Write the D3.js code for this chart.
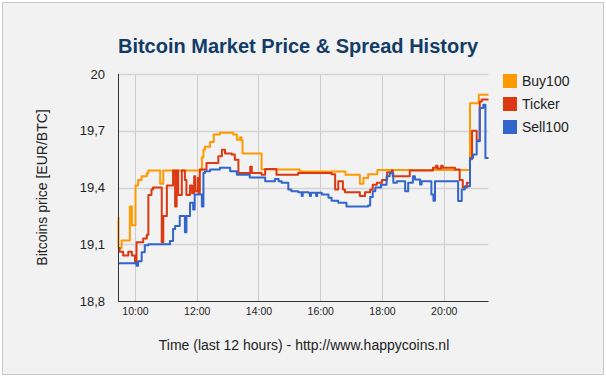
<!DOCTYPE html>
<html>
<head>
<meta charset="utf-8">
<script src="https://cdn.jsdelivr.net/npm/d3@7"></script>
<style>
  body { margin: 0; background: #fff; }
  svg { display: block; font-family: Arial, "Liberation Sans", sans-serif; }
</style>
</head>
<body>
<div id="chart"></div>
<script>
const width = 606;
const height = 377;
const margin = { top: 74, right: 117.5, bottom: 75, left: 118 };

// Time window and axis ticks
const timeDomain = ["09:27", "21:27"];
const timeTicks = ["10:00", "12:00", "14:00", "16:00", "18:00", "20:00"];
const priceDomain = [18.8, 20];
const priceTicks = [18.8, 19.1, 19.4, 19.7, 20];

const seriesNames = ["Buy100", "Ticker", "Sell100"];
const seriesColors = ["#ff9900", "#dc3912", "#3366cc"];

// [time, EUR/BTC]
const buy100 = [
  ["09:27", 19.24], ["09:28", 19.08], ["09:34", 19.12], ["09:50", 19.3],
  ["09:54", 19.2], ["10:01", 19.41], ["10:06", 19.44], ["10:13", 19.46],
  ["10:23", 19.475], ["10:26", 19.49], ["10:49", 19.42], ["10:55", 19.49],
  ["12:10", 19.56], ["12:13", 19.6], ["12:16", 19.615], ["12:26", 19.64],
  ["12:33", 19.68], ["12:45", 19.69], ["13:11", 19.68], ["13:18", 19.653],
  ["13:24", 19.665], ["13:27", 19.65], ["13:29", 19.58], ["14:06", 19.495],
  ["15:20", 19.485], ["16:49", 19.468], ["17:17", 19.42], ["17:24", 19.45],
  ["17:33", 19.47], ["17:51", 19.492], ["20:51", 19.845], ["21:08", 19.89],
  ["21:27", 19.89],
];

const ticker = [
  ["09:27", 19.08], ["09:30", 19.06], ["09:37", 19.04], ["09:47", 19.06],
  ["09:54", 19.04], ["10:00", 19.0], ["10:03", 19.11], ["10:16", 19.13],
  ["10:23", 19.15], ["10:26", 19.36], ["10:32", 19.39], ["10:35", 19.4],
  ["10:52", 19.11], ["10:55", 19.25], ["11:02", 19.41], ["11:14", 19.49],
  ["11:18", 19.3], ["11:21", 19.49], ["11:24", 19.36], ["11:31", 19.49],
  ["11:37", 19.44], ["11:40", 19.36], ["11:47", 19.41], ["11:51", 19.37],
  ["11:55", 19.46], ["11:57", 19.38], ["12:02", 19.45], ["12:04", 19.37],
  ["12:06", 19.495], ["12:19", 19.53], ["12:42", 19.565], ["12:49", 19.6],
  ["12:55", 19.58], ["13:08", 19.574], ["13:14", 19.547], ["13:21", 19.477],
  ["13:44", 19.51], ["13:47", 19.477], ["14:06", 19.468], ["14:13", 19.498],
  ["14:35", 19.468], ["15:17", 19.477], ["16:22", 19.47], ["16:29", 19.39],
  ["16:35", 19.433], ["16:44", 19.39], ["16:48", 19.375], ["17:17", 19.355],
  ["17:27", 19.375], ["17:37", 19.39], ["17:42", 19.415], ["17:50", 19.425],
  ["18:00", 19.44], ["18:10", 19.48], ["18:19", 19.49], ["18:21", 19.46],
  ["18:54", 19.49], ["19:39", 19.505], ["19:45", 19.515], ["19:48", 19.5],
  ["19:55", 19.515], ["19:58", 19.505], ["20:22", 19.495], ["20:31", 19.44],
  ["20:37", 19.4], ["20:45", 19.425], ["20:51", 19.55], ["20:55", 19.7],
  ["21:04", 19.65], ["21:10", 19.855], ["21:14", 19.865], ["21:27", 19.865],
];

const sell100 = [
  ["09:27", 19.0], ["10:03", 18.986], ["10:06", 19.01], ["10:13", 19.058],
  ["10:19", 19.095], ["10:26", 19.1], ["11:08", 19.117], ["11:14", 19.18],
  ["11:18", 19.196], ["11:27", 19.25], ["11:37", 19.163], ["11:40", 19.25],
  ["11:47", 19.32], ["11:53", 19.284], ["11:56", 19.363], ["12:10", 19.3],
  ["12:13", 19.477], ["12:16", 19.486], ["12:26", 19.495], ["12:45", 19.504],
  ["13:05", 19.486], ["13:18", 19.468], ["13:43", 19.453], ["14:13", 19.433],
  ["14:32", 19.445], ["14:39", 19.433], ["14:45", 19.425], ["14:58", 19.39],
  ["15:04", 19.38], ["15:17", 19.375], ["15:24", 19.355], ["15:26", 19.375],
  ["15:37", 19.372], ["15:40", 19.355], ["15:42", 19.372], ["15:52", 19.355],
  ["15:54", 19.372], ["16:03", 19.363], ["16:16", 19.346], ["16:22", 19.33],
  ["16:35", 19.32], ["16:51", 19.3], ["17:33", 19.305], ["17:37", 19.35],
  ["17:42", 19.38], ["17:47", 19.4], ["17:58", 19.415], ["18:09", 19.46],
  ["18:15", 19.475], ["18:22", 19.425], ["18:29", 19.433], ["18:45", 19.38],
  ["18:51", 19.425], ["19:00", 19.46], ["19:04", 19.442], ["19:14", 19.416],
  ["19:17", 19.433], ["19:36", 19.363], ["19:40", 19.33], ["19:43", 19.433],
  ["20:28", 19.328], ["20:35", 19.389], ["20:41", 19.407], ["20:51", 19.556],
  ["20:57", 19.574], ["21:04", 19.644], ["21:10", 19.82], ["21:17", 19.837],
  ["21:21", 19.556], ["21:27", 19.556],
];

const seriesData = [buy100, ticker, sell100];

const parseTime = d3.timeParse("%H:%M");
const commaFormat = d3.formatLocale({ decimal: ",", thousands: ".", grouping: [3], currency: ["", "€"] }).format("~g");

const plotWidth = width - margin.left - margin.right;
const plotHeight = height - margin.top - margin.bottom - 1;

const svg = d3
  .select("#chart")
  .append("svg")
  .attr("width", width)
  .attr("height", height);

// Background with thin border
svg
  .append("rect")
  .attr("x", 2.5)
  .attr("y", 2.5)
  .attr("width", 601)
  .attr("height", 372)
  .attr("fill", "#f2f2f2")
  .attr("stroke", "#c8c8c8");

const xScale = d3
  .scaleTime()
  .domain(timeDomain.map(parseTime))
  .range([margin.left, margin.left + plotWidth]);

const yScale = d3
  .scaleLinear()
  .domain(priceDomain)
  .range([margin.top + plotHeight, margin.top]);

// Gridlines
svg
  .append("g")
  .selectAll("line")
  .data(timeTicks)
  .enter()
  .append("line")
  .attr("x1", (d) => Math.round(xScale(parseTime(d))) + 0.5)
  .attr("x2", (d) => Math.round(xScale(parseTime(d))) + 0.5)
  .attr("y1", margin.top)
  .attr("y2", margin.top + plotHeight)
  .attr("stroke", "#cccccc");

svg
  .append("g")
  .selectAll("line")
  .data(priceTicks.slice(1))
  .enter()
  .append("line")
  .attr("x1", margin.left)
  .attr("x2", margin.left + plotWidth)
  .attr("y1", (d) => Math.round(yScale(d)) + 0.5)
  .attr("y2", (d) => Math.round(yScale(d)) + 0.5)
  .attr("stroke", "#d4d4d4")
  .attr("stroke-width", 1.5);

// Y axis labels
const yAxis = svg
  .append("g")
  .attr("transform", `translate(${margin.left - 13}, 0)`)
  .call(d3.axisLeft(yScale).tickValues(priceTicks).tickSize(0).tickPadding(0).tickFormat(commaFormat));
yAxis.select(".domain").remove();
yAxis.selectAll("text").attr("font-size", 13).attr("fill", "#222").attr("font-family", null);

// X axis labels
const xAxis = svg
  .append("g")
  .attr("transform", `translate(0, ${margin.top + plotHeight + 7})`)
  .call(
    d3
      .axisBottom(xScale)
      .tickValues(timeTicks.map(parseTime))
      .tickSize(0)
      .tickPadding(0)
      .tickFormat(d3.timeFormat("%H:%M"))
  );
xAxis.select(".domain").remove();
xAxis.selectAll("text").attr("font-size", 10.5).attr("fill", "#222").attr("font-family", null);

// Series lines
const line = d3
  .line()
  .curve(d3.curveStepAfter)
  .x((d) => xScale(parseTime(d[0])))
  .y((d) => yScale(d[1]));

svg
  .append("g")
  .selectAll("path")
  .data(seriesData)
  .enter()
  .append("path")
  .attr("d", (d) => line(d))
  .attr("fill", "none")
  .attr("stroke", (d, i) => seriesColors[i])
  .attr("stroke-width", 2)
  .attr("stroke-linejoin", "round");

// Axis lines
svg
  .append("line")
  .attr("x1", margin.left + 0.5)
  .attr("x2", margin.left + 0.5)
  .attr("y1", margin.top)
  .attr("y2", margin.top + plotHeight)
  .attr("stroke", "#333");

svg
  .append("line")
  .attr("x1", margin.left)
  .attr("x2", margin.left + plotWidth)
  .attr("y1", Math.round(margin.top + plotHeight) + 0.5)
  .attr("y2", Math.round(margin.top + plotHeight) + 0.5)
  .attr("stroke", "#333");

// Title
svg
  .append("text")
  .attr("x", 298)
  .attr("y", 53)
  .attr("text-anchor", "middle")
  .attr("font-size", 20)
  .attr("font-weight", "bold")
  .attr("fill", "#123c66")
  .text("Bitcoin Market Price & Spread History");

// Axis titles
svg
  .append("text")
  .attr("x", 304)
  .attr("y", 350)
  .attr("text-anchor", "middle")
  .attr("font-size", 14)
  .attr("fill", "#222")
  .text("Time (last 12 hours) - http://www.happycoins.nl");

svg
  .append("text")
  .attr("transform", `translate(47, ${margin.top + plotHeight / 2}) rotate(-90)`)
  .attr("text-anchor", "middle")
  .attr("font-size", 14)
  .attr("fill", "#222")
  .text("Bitcoins price [EUR/BTC]");

// Legend
const legend = svg
  .append("g")
  .selectAll("g")
  .data(seriesNames)
  .enter()
  .append("g")
  .attr("transform", (d, i) => `translate(503, ${74 + i * 23})`);

legend
  .append("rect")
  .attr("width", 14)
  .attr("height", 14)
  .attr("fill", (d, i) => seriesColors[i]);

legend
  .append("text")
  .attr("x", 19)
  .attr("y", 12)
  .attr("font-size", 14)
  .attr("fill", "#222")
  .text((d) => d);
</script>
</body>
</html>
